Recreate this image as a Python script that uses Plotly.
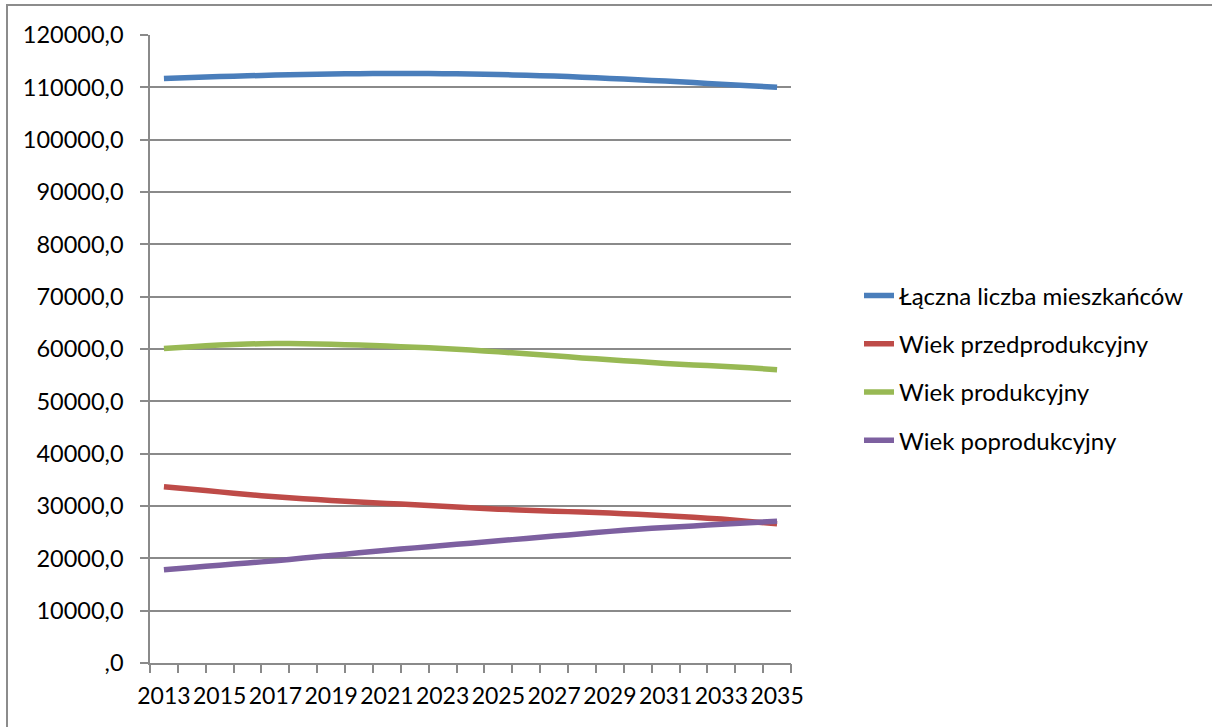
import plotly.graph_objects as go

years = list(range(2013, 2036))
total = [111700, 111900, 112050, 112200, 112350, 112450, 112550, 112600, 112650, 112650,
         112600, 112550, 112450, 112300, 112150, 111950, 111700, 111450, 111200, 110900,
         110600, 110300, 110000]
pre = [33700, 33200, 32700, 32200, 31750, 31400, 31050, 30750, 30500, 30250,
       29950, 29650, 29400, 29200, 29000, 28850, 28650, 28400, 28150, 27850,
       27500, 27050, 26600]
prod = [60100, 60450, 60750, 60950, 61050, 61000, 60900, 60750, 60550, 60350,
        60100, 59800, 59450, 59100, 58700, 58300, 57950, 57600, 57250, 56950,
        56700, 56400, 56050]
post = [17800, 18250, 18700, 19100, 19550, 20050, 20550, 21050, 21550, 22000,
        22450, 22900, 23350, 23800, 24250, 24700, 25150, 25550, 25900, 26200,
        26500, 26800, 27100]

names = ["Łączna liczba mieszkańców", "Wiek przedprodukcyjny", "Wiek produkcyjny", "Wiek poprodukcyjny"]
colors = ["#4A7EBB", "#BE4B48", "#98B954", "#7D60A0"]
series = [total, pre, prod, post]

yticks = list(range(0, 120001, 10000))
ytext = [(f"{v},0" if v else ",0") for v in yticks]
xlabels = years[::2]

FONT = "Lato"
W, H = 1213, 727
L, R, T, B = 150, 422, 35, 64
pw, ph = W - L - R, H - T - B

fig = go.Figure()
for i, (n, c, s) in enumerate(zip(names, colors, series)):
    fig.add_trace(go.Scatter(x=years, y=s, name=n, mode="lines",
                             line=dict(color=c, width=5.5, shape="spline", smoothing=0.6),
                             legendgroup=f"g{i}"))
# invisible trace on overlay axis for boundary tick marks
fig.add_trace(go.Scatter(x=[years[0]], y=[0], xaxis="x2", mode="markers",
                         marker=dict(opacity=0), showlegend=False, hoverinfo="skip"))

grid = "#8A8A8A"
fig.update_layout(
    width=W, height=H,
    margin=dict(l=L, r=R, t=T, b=B),
    paper_bgcolor="white", plot_bgcolor="white",
    font=dict(family=FONT, size=23, color="black"),
    showlegend=True,
    legend=dict(x=(859 - L) / pw, y=(H - B - 368) / ph, xanchor="left", yanchor="middle",
                font=dict(family=FONT, size=24, color="black"),
                tracegroupgap=14, itemwidth=30, bgcolor="rgba(0,0,0,0)"),
    xaxis=dict(range=[2012.5, 2035.5], tickmode="array", tickvals=xlabels,
               ticktext=[str(v) for v in xlabels], ticks="", showgrid=False,
               showline=True, linecolor=grid, linewidth=1.5, zeroline=False,
               tickangle=0, ticklabelstandoff=12, tickfont=dict(family=FONT, size=23)),
    xaxis2=dict(range=[2012.5, 2035.5], overlaying="x", side="bottom",
                tickmode="array", tickvals=[y - 0.5 for y in years] + [2035.5],
                ticktext=[""] * 24, ticks="outside", ticklen=9, tickcolor=grid,
                tickwidth=1.5, showgrid=False, showline=False, zeroline=False),
    yaxis=dict(range=[0, 120000], tickmode="array", tickvals=yticks, ticktext=ytext,
               ticks="outside", ticklen=8, tickcolor=grid, tickwidth=1.5,
               showgrid=True, gridcolor=grid, gridwidth=1.5,
               showline=True, linecolor=grid, linewidth=1.5, zeroline=False,
               ticklabelstandoff=12, tickfont=dict(family=FONT, size=23.5)),
    shapes=[
        dict(type="line", xref="paper", yref="paper",
             x0=(6 - L) / pw, x1=(1212 - L) / pw,
             y0=1 + (T - 5) / ph, y1=1 + (T - 5) / ph,
             line=dict(color="#8C8C8C", width=2)),
        dict(type="line", xref="paper", yref="paper",
             x0=(7 - L) / pw, x1=(7 - L) / pw,
             y0=1 + (T - 5) / ph, y1=-(B + 5) / ph,
             line=dict(color="#8C8C8C", width=2)),
    ],
)
fig.write_html("out.html")
